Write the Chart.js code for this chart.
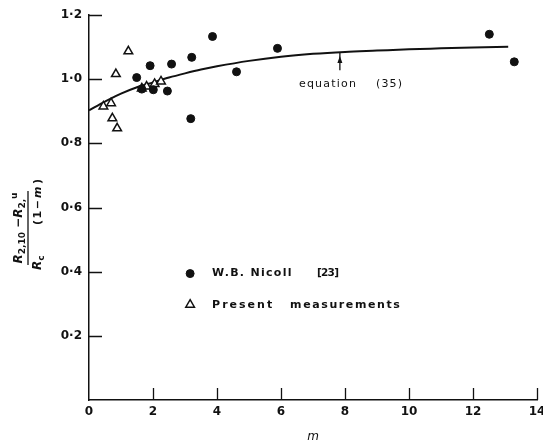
<!DOCTYPE html>
<html lang="en">
<head>
<meta charset="UTF-8" />
<title>Resistance ratio vs m</title>
<script src="https://cdn.jsdelivr.net/npm/chart.js"></script>
<style>
    html, body { margin: 0; padding: 0; background: #fff; overflow: hidden; }
    #wrap { width: 560px; height: 442px; }
</style>
</head>
<body>
<div id="wrap"><canvas id="chart" width="560" height="442"></canvas></div>
<script>
    // W.B. Nicoll [23]
    const nicollM = [1.49, 1.65, 1.91, 2.01, 2.45, 2.58, 3.18, 3.21, 3.86, 4.61, 5.89, 12.51, 13.29];
    const nicollR = [1.005, 0.969, 1.042, 0.967, 0.963, 1.047, 0.877, 1.068, 1.133, 1.023, 1.096, 1.140, 1.054];

    // present measurements
    const presentM = [0.45, 0.69, 0.73, 0.84, 0.88, 1.23, 1.65, 1.80, 2.05, 2.25];
    const presentR = [0.915, 0.925, 0.878, 1.016, 0.847, 1.087, 0.971, 0.977, 0.985, 0.993];

    // equation (35)
    const eqM = [0, 0.5, 1, 1.5, 2, 2.5, 3, 3.5, 4, 5, 6, 7, 8, 9, 10, 11, 12, 13.1];
    const eqR = [0.903, 0.930, 0.955, 0.975, 0.990, 1.005, 1.018, 1.030, 1.040, 1.057, 1.070, 1.079, 1.085, 1.089, 1.093, 1.096, 1.099, 1.101];

    const xTicks = [0, 2, 4, 6, 8, 10, 12, 14];
    const yTicks = [0.2, 0.4, 0.6, 0.8, 1.0, 1.2];

    const legendLabels = ['W.B. Nicoll', '[23]', 'Present', 'measurements'];
    const eqLabel = ['equation', '(35)'];

    // where the legend and the annotation sit (data units)
    const legendAt = { x: 3.16, y: [0.394, 0.297] };
    const arrowAt = { x: 7.84, yTop: 1.085, yBottom: 1.028 };
    const eqTextAt = { x: 6.56, y: 0.985 };

    const pts = (xs, ys) => xs.map((v, i) => ({ x: v, y: ys[i] }));
    const fmt = v => v.toFixed(1).replace('.', '\u00b7');
    const INK = '#111';
    const FONT = '"DejaVu Sans", sans-serif';

    const inwardTicks = {
        id: 'inwardTicks',
        beforeDatasetsDraw(chart) {
            const { ctx, scales: { x, y } } = chart;
            ctx.save();
            ctx.strokeStyle = INK;
            ctx.lineWidth = 1.3;
            ctx.beginPath();
            x.ticks.forEach(t => {
                if (t.value === 0) return;
                const px = Math.round(x.getPixelForValue(t.value)) + 0.5;
                ctx.moveTo(px, x.top);
                ctx.lineTo(px, x.top - 12);
            });
            y.ticks.forEach(t => {
                const py = Math.round(y.getPixelForValue(t.value)) + 0.5;
                ctx.moveTo(y.right, py);
                ctx.lineTo(y.right + 13, py);
            });
            ctx.stroke();
            ctx.restore();
        }
    };

    // draws pieces of text one after another, with sub/superscripts
    function drawRuns(ctx, runs, x, y) {
        runs.forEach(r => {
            ctx.font = r.font;
            ctx.fillText(r.t, x, y + (r.dy || 0));
            x += ctx.measureText(r.t).width;
        });
    }
    function runsWidth(ctx, runs) {
        return runs.reduce((w, r) => { ctx.font = r.font; return w + ctx.measureText(r.t).width; }, 0);
    }

    const extras = {
        id: 'extras',
        afterDraw(chart) {
            const { ctx, scales: { x, y } } = chart;
            ctx.save();
            ctx.fillStyle = INK;
            ctx.strokeStyle = INK;

            // legend
            const lx = x.getPixelForValue(legendAt.x);
            const ly1 = y.getPixelForValue(legendAt.y[0]);
            const ly2 = y.getPixelForValue(legendAt.y[1]);
            ctx.lineWidth = 1;
            Chart.helpers.drawPoint(ctx, { pointStyle: 'circle', radius: 4, rotation: 0, borderWidth: 1 }, lx, ly1);
            ctx.fillStyle = '#fff';
            ctx.lineWidth = 1.5;
            Chart.helpers.drawPoint(ctx, { pointStyle: 'triangle', radius: 5, rotation: 0, borderWidth: 1.5 }, lx, ly2);
            ctx.fillStyle = INK;
            ctx.textBaseline = 'middle';
            ctx.textAlign = 'left';
            ctx.font = 'bold 11px ' + FONT;
            ctx.letterSpacing = '1.3px';
            ctx.fillText(legendLabels[0], lx + 22, ly1);
            ctx.font = 'bold 10.5px ' + FONT;
            ctx.letterSpacing = '-0.8px';
            ctx.fillText(legendLabels[1], lx + 127, ly1);
            ctx.font = 'bold 11px ' + FONT;
            ctx.letterSpacing = '2px';
            ctx.fillText(legendLabels[2], lx + 22, ly2);
            ctx.letterSpacing = '1.6px';
            ctx.fillText(legendLabels[3], lx + 100, ly2);

            // equation (35) arrow + label
            const ax = x.getPixelForValue(arrowAt.x);
            const at = y.getPixelForValue(arrowAt.yTop);
            const ab = y.getPixelForValue(arrowAt.yBottom);
            ctx.lineWidth = 1.3;
            ctx.beginPath();
            ctx.moveTo(ax, at);
            ctx.lineTo(ax, ab);
            ctx.stroke();
            ctx.beginPath();
            ctx.moveTo(ax, at + 4);
            ctx.lineTo(ax - 2.5, at + 11);
            ctx.lineTo(ax + 2.5, at + 11);
            ctx.closePath();
            ctx.fill();
            const ex = x.getPixelForValue(eqTextAt.x);
            const ey = y.getPixelForValue(eqTextAt.y);
            ctx.font = '11px ' + FONT;
            ctx.letterSpacing = '1.2px';
            ctx.fillText(eqLabel[0], ex, ey);
            ctx.fillText(eqLabel[1], ex + 77, ey);

            // y axis title: (R2,10 - R2,u) / (Rc (1 - m)), rotated
            ctx.letterSpacing = '0px';
            ctx.translate(28, 228);
            ctx.rotate(-Math.PI / 2);
            ctx.textBaseline = 'alphabetic';
            const it = 'italic bold 12px ' + FONT;
            const sm = 'bold 9px ' + FONT;
            const num = [
                { t: 'R', font: it }, { t: '2,10', font: sm, dy: 3 },
                { t: ' \u2212', font: 'bold 12px ' + FONT }, { t: 'R', font: it },
                { t: '2,', font: sm, dy: 3 }, { t: 'u', font: sm, dy: -5 }
            ];
            drawRuns(ctx, num, -runsWidth(ctx, num) / 2, -6);
            ctx.lineWidth = 1.3;
            ctx.beginPath();
            ctx.moveTo(-37, 0);
            ctx.lineTo(37, 0);
            ctx.stroke();
            drawRuns(ctx, [{ t: 'R', font: it }, { t: 'c', font: sm, dy: 3 }], -42, 13);
            ctx.font = 'bold 11px ' + FONT;
            ctx.letterSpacing = '1.5px';
            ctx.fillText('(1\u2212', 3, 13);
            ctx.font = 'italic bold 11px ' + FONT;
            ctx.fillText('m', 30, 13);
            ctx.font = 'bold 11px ' + FONT;
            ctx.fillText(')', 44, 13);
            ctx.restore();
        }
    };

    new Chart(document.getElementById('chart'), {
        type: 'scatter',
        data: {
            datasets: [
                {
                    label: 'equation (35)',
                    type: 'line',
                    data: pts(eqM, eqR),
                    borderColor: INK,
                    borderWidth: 2,
                    pointRadius: 0,
                    cubicInterpolationMode: 'monotone',
                    order: 3
                },
                {
                    label: 'W.B. Nicoll [23]',
                    data: pts(nicollM, nicollR),
                    pointStyle: 'circle',
                    pointRadius: 4,
                    backgroundColor: INK,
                    borderColor: INK,
                    borderWidth: 1,
                    order: 1
                },
                {
                    label: 'Present measurements',
                    data: pts(presentM, presentR),
                    pointStyle: 'triangle',
                    pointRadius: 5,
                    backgroundColor: '#fff',
                    borderColor: INK,
                    borderWidth: 1.5,
                    order: 2
                }
            ]
        },
        options: {
            responsive: false,
            animation: false,
            layout: { padding: { top: 15, right: 23, left: 0, bottom: 0 } },
            plugins: { legend: { display: false }, tooltip: { enabled: false } },
            scales: {
                x: {
                    type: 'linear',
                    min: 0,
                    max: 14,
                    afterBuildTicks: s => { s.ticks = xTicks.map(v => ({ value: v })); },
                    afterFit: s => { s.height = 42; },
                    grid: { drawOnChartArea: false, drawTicks: false },
                    border: { color: INK, width: 1.5 },
                    ticks: { color: INK, padding: 5, font: { family: FONT, size: 12, weight: 'bold' } },
                    title: {
                        display: true,
                        text: 'm',
                        color: INK,
                        padding: { top: 0, bottom: -2 },
                        font: { family: FONT, size: 12, style: 'italic' }
                    }
                },
                y: {
                    type: 'linear',
                    min: 0,
                    max: 1.2,
                    afterBuildTicks: s => { s.ticks = yTicks.map(v => ({ value: v })); },
                    afterFit: s => { s.width = 89; },
                    grid: { drawOnChartArea: false, drawTicks: false },
                    border: { color: INK, width: 1.5 },
                    ticks: {
                        color: INK,
                        padding: 7,
                        font: { family: FONT, size: 12, weight: 'bold' },
                        callback: v => fmt(v)
                    }
                }
            }
        },
        plugins: [inwardTicks, extras]
    });
</script>
</body>
</html>
